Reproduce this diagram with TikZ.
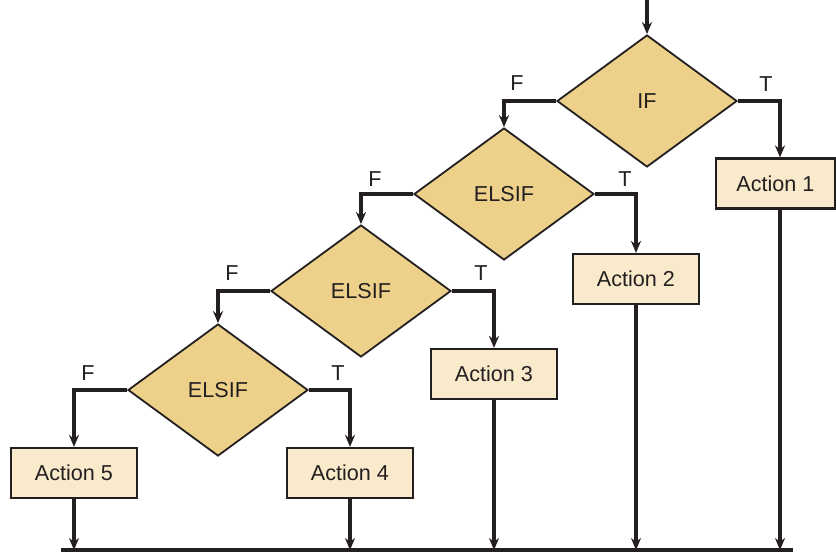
\documentclass[tikz,border=0pt]{standalone}
\usepackage{fontspec}
\setmainfont{Liberation Sans}
\usetikzlibrary{shapes.geometric,arrows.meta,calc}
\definecolor{dfill}{HTML}{EDD18A}
\definecolor{bfill}{HTML}{F8EACB}
\definecolor{ink}{HTML}{231F20}
\begin{document}
\begin{tikzpicture}[x=0.5pt,y=-0.5pt,
  every node/.style={font=\fontsize{10.8pt}{12pt}\selectfont, text=ink},
  decision/.style={diamond, draw=ink, line width=0.9pt, fill=dfill, inner sep=0pt,
     aspect=1.36, minimum width=90pt, minimum height=66pt},
  actbox/.style={rectangle, draw=ink, line width=1.1pt, fill=bfill, inner sep=0pt,
     minimum width=63pt, minimum height=25pt},
  arr/.style={draw=ink, line width=1.6pt, -{Stealth[length=6pt,width=5pt]}},
  lbl/.style={inner sep=0pt}]
\useasboundingbox (0,0) rectangle (836,553);
% decisions
\node[decision] (if) at (647,101) {IF};
\node[decision] (e1) at (504,194) {ELSIF};
\node[decision] (e2) at (361,291) {ELSIF};
\node[decision] (e3) at (218,390) {ELSIF};
% actions
\node[actbox, minimum width=59.5pt] (a1) at (775.5,183.5) {Action 1};
\node[actbox] (a2) at (636,279) {Action 2};
\node[actbox] (a3) at (494,374) {Action 3};
\node[actbox] (a4) at (350,473) {Action 4};
\node[actbox] (a5) at (74,473) {Action 5};
% columns and bottom line
\coordinate (start) at (647,0);
\coordinate (col1) at (780,0);
\coordinate (bl) at (61,550);
\coordinate (br) at (793,550);
\draw[ink, line width=2pt] (bl) -- (br);
% entry
\draw[arr] (start) -- (if.north);
% branches
\draw[arr] (if.east) -| (a1.north -| col1);
\draw[arr] (if.west) -| (e1.north);
\draw[arr] (e1.east) -| (a2.north);
\draw[arr] (e1.west) -| (e2.north);
\draw[arr] (e2.east) -| (a3.north);
\draw[arr] (e2.west) -| (e3.north);
\draw[arr] (e3.east) -| (a4.north);
\draw[arr] (e3.west) -| (a5.north);
% to bottom line
\draw[arr] (a1.south -| col1) -- (bl -| col1);
\draw[arr] (a2.south) -- (bl -| a2.south);
\draw[arr] (a3.south) -- (bl -| a3.south);
\draw[arr] (a4.south) -- (bl -| a4.south);
\draw[arr] (a5.south) -- (bl -| a5.south);
% labels
\node[lbl] (fif) at (517,83) {F};
\node[lbl] (tif) at (766,84) {T};
\node[lbl] (f1) at (375,179) {F};
\node[lbl] (t1) at (625,179) {T};
\node[lbl] (f2) at (232,273) {F};
\node[lbl] (t2) at (481,273) {T};
\node[lbl] (f3) at (88,373) {F};
\node[lbl] (t3) at (338,373) {T};
\end{tikzpicture}
\end{document}
